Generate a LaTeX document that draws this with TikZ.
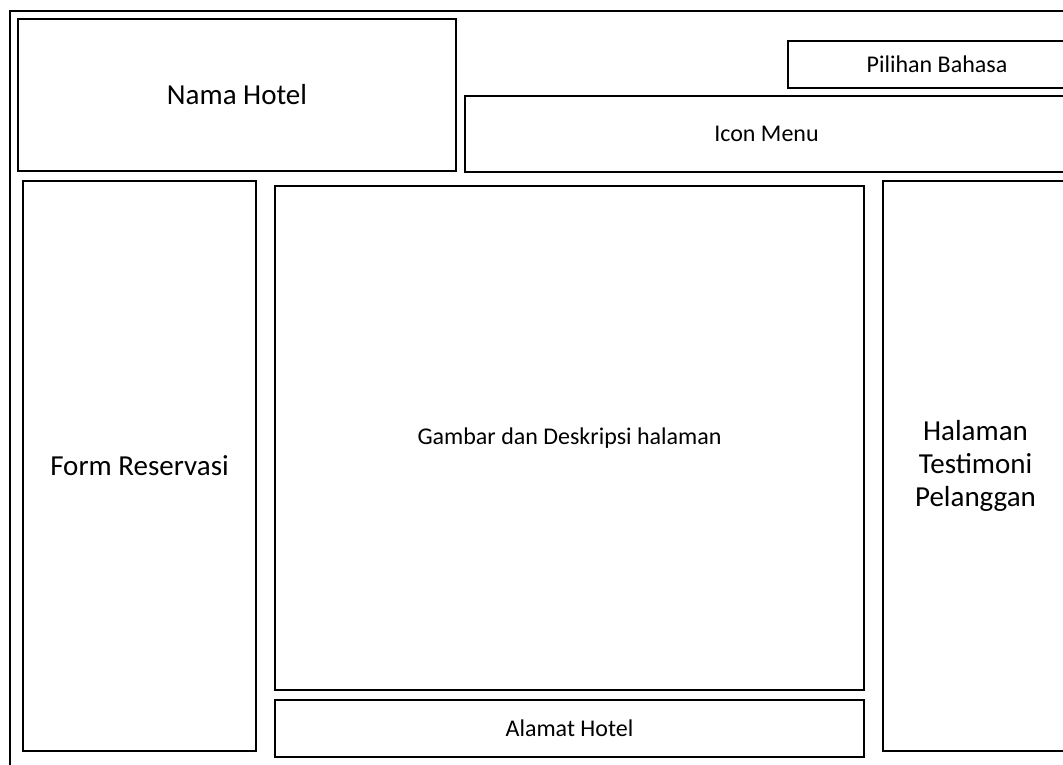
\documentclass[tikz,border=0pt]{standalone}
\usepackage{fontspec}
\setmainfont{Carlito}

\begin{document}
\begin{tikzpicture}[
        x=1pt, y=-1pt,
        box/.style   = {draw, line width=1.5pt, inner sep=0pt, align=center},
        big/.style   = {font=\fontsize{29}{33}\selectfont},
        small/.style = {font=\fontsize{24}{28}\selectfont}
    ]
        \useasboundingbox (0,0) rectangle (1063,764);
        \clip (0,0) rectangle (1063,764);
        % page frame
        \node[box, minimum width=1070pt, minimum height=770pt, anchor=north west] (page) at (9,10) {};
        % header
        \node[box, big, minimum width=438pt, minimum height=152pt] (nama) at (237,95) {Nama Hotel};
        \node[box, small, minimum width=298pt, minimum height=47pt] (bahasa) at (937,64.5) {Pilihan Bahasa};
        \node[box, small, minimum width=603pt, minimum height=76pt] (menu) at (766.5,134) {Icon Menu};
        % body
        \node[box, big, minimum width=233pt, minimum height=570pt] (form) at (139.5,466) {Form Reservasi};
        \node[box, small, minimum width=589pt, minimum height=504pt] (isi) at (569.5,438) {Gambar dan Deskripsi halaman};
        \node[box, small, minimum width=589pt, minimum height=57pt] (alamat) at (569.5,728.5) {Alamat Hotel};
        \node[box, big, minimum width=185pt, minimum height=570pt] (testi) at (975.5,466) {Halaman\\Testimoni\\Pelanggan};
    \end{tikzpicture}
\end{document}
